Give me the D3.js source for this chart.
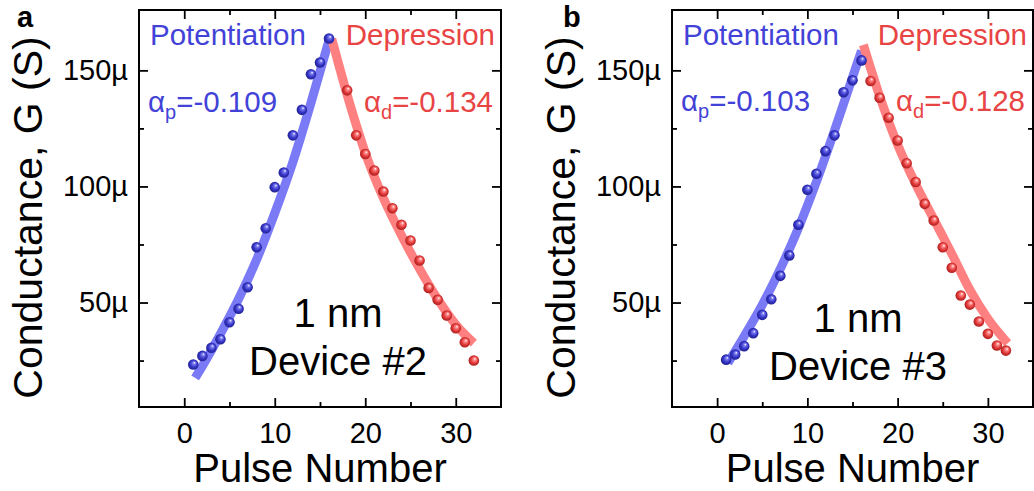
<!DOCTYPE html>
<html><head><meta charset="utf-8">
<script src="https://cdn.jsdelivr.net/npm/d3@7"></script>
<style>
body{margin:0;background:#fff}
svg{display:block}
text{font-family:"Liberation Sans",Arial,Helvetica,sans-serif}
</style>
</head><body>
<svg id="chart" width="1034" height="491"></svg>
<script>
// ---------- axis definitions ----------
const xDomain = [-5, 35];
const yDomain = [5, 176];           // µS
const xTicks = [0, 10, 20, 30];
const xMinorTicks = [5, 15, 25];
const yTicks = [50, 100, 150];
const yMinorTicks = [25, 75, 125];
const xTitle = "Pulse Number";
const yTitle = "Conductance, G (S)";

// ---------- panel a (Device #2) ----------
const potPulseA = [1,2,3,4,5,6,7,8,9,10,11,12,13,14,15,16];
const potGA = [23.3,27.0,30.5,34.2,41.5,47.3,56.6,73.8,82.0,99.7,106.0,122.0,133.0,148.3,153.4,163.7];
const depPulseA = [18,19,20,21,22,23,24,25,26,27,28,29,30,31,32];
const depGA = [141.4,122.0,114.0,106.9,97.8,90.6,83.5,76.7,68.1,56.3,51.2,44.4,38.9,32.9,25.0];
const potFitXA = [1.2,2,4,6,8,10,12,14,16];
const potFitGA = [17.5,22.6,36.5,51.5,68.5,88.5,110.5,136,163];
const depFitXA = [16.3,17,18,19,20,22,24,26,28,30,32];
const depFitGA = [163.5,153.5,139.5,126.5,114.5,95,79,64.5,51.5,40.5,32.5];

// ---------- panel b (Device #3) ----------
const potPulseB = [1,2,3,4,5,6,7,8,9,10,11,12,13,14,15,16];
const potGB = [25.4,27.6,31.2,36.8,44.7,51.4,61.5,70.3,83.5,98.6,105.5,115.2,122.0,140.6,145.7,154.3];
const depPulseB = [17,18,19,20,21,22,23,24,25,26,27,28,29,30,31,32];
const depGB = [145.4,138.2,129.6,119.8,110.0,101.9,92.5,85.3,73.8,65.0,53.0,49.1,41.8,36.5,31.5,29.3];
const potFitXB = [1.2,3,5,7,9,11,13,15,16];
const potFitGB = [24,35.5,49,64.5,82,102,124,147,158.5];
const depFitXB = [16.2,17,18,19,20,22,24,26,28,30,32.2];
const depFitGB = [161,151,139,128,118,101,86,71,55.5,43,32.5];

const panels = [
  {label:"a", alphaP:"-0.109", alphaD:"-0.134", device:"Device #2",
   potX:potPulseA, potY:potGA, depX:depPulseA, depY:depGA,
   pfX:potFitXA, pfY:potFitGA, dfX:depFitXA, dfY:depFitGA,
   x0:139, x1:501, labelX:17, noteX:338, noteY:327, alphaY:112},
  {label:"b", alphaP:"-0.103", alphaD:"-0.128", device:"Device #3",
   potX:potPulseB, potY:potGB, depX:depPulseB, depY:depGB,
   pfX:potFitXB, pfY:potFitGB, dfX:depFitXB, dfY:depFitGB,
   x0:672, x1:1033, labelX:563, noteX:858, noteY:332, alphaY:111}
];

const FONT = '"Liberation Sans",Arial,Helvetica,sans-serif';
const BLUE_TXT = "#4242d8", RED_TXT = "#e84444";
const BLUE_LINE = "#7a7af6", RED_LINE = "#ff8080";
const plotTop = 10, plotBottom = 407;

const svg = d3.select("#chart");
const defs = svg.append("defs");
function sphere(id, light, mid, dark){
  const g = defs.append("radialGradient").attr("id", id)
    .attr("cx","50%").attr("cy","50%").attr("r","55%")
    .attr("fx","62%").attr("fy","32%");
  g.append("stop").attr("offset","0%").attr("stop-color","#ffffff");
  g.append("stop").attr("offset","22%").attr("stop-color",light);
  g.append("stop").attr("offset","60%").attr("stop-color",mid);
  g.append("stop").attr("offset","100%").attr("stop-color",dark);
}
sphere("gBlue", "#7c7cf0", "#3535c6", "#1c1c88");
sphere("gRed", "#ff8c8c", "#e03838", "#a01a1a");

panels.forEach(p => {
  const x = d3.scaleLinear().domain(xDomain).range([p.x0, p.x1]);
  const y = d3.scaleLinear().domain(yDomain).range([plotBottom, plotTop]);
  const g = svg.append("g");

  // fit lines
  const line = d3.line().x(d => x(d[0])).y(d => y(d[1])).curve(d3.curveMonotoneX);
  g.append("path").datum(d3.zip(p.pfX, p.pfY)).attr("d", line)
    .attr("fill","none").attr("stroke",BLUE_LINE).attr("stroke-width",9);
  g.append("path").datum(d3.zip(p.dfX, p.dfY)).attr("d", line)
    .attr("fill","none").attr("stroke",RED_LINE).attr("stroke-width",9);

  // markers
  g.selectAll(".pb").data(d3.zip(p.potX, p.potY)).join("circle")
    .attr("cx", d => x(d[0])).attr("cy", d => y(d[1])).attr("r", 5.3)
    .attr("fill","url(#gBlue)");
  g.selectAll(".pr").data(d3.zip(p.depX, p.depY)).join("circle")
    .attr("cx", d => x(d[0])).attr("cy", d => y(d[1])).attr("r", 5.3)
    .attr("fill","url(#gRed)");

  const styleAxis = sel => {
    sel.select(".domain").remove();
    sel.selectAll("line").attr("stroke","#000").attr("stroke-width",1.8);
    sel.attr("font-family", FONT).attr("font-size", 29);
    sel.selectAll("text").attr("fill","#000");
  };
  g.append("g").attr("transform",`translate(0,${plotBottom})`)
    .call(d3.axisBottom(x).tickValues(xTicks).tickSize(-9).tickPadding(15).tickFormat(d3.format("d")))
    .call(styleAxis);
  g.append("g").attr("transform",`translate(0,${plotBottom})`)
    .call(d3.axisBottom(x).tickValues(xMinorTicks).tickSize(-5).tickFormat(""))
    .call(styleAxis);
  g.append("g").attr("transform",`translate(0,${plotTop})`)
    .call(d3.axisTop(x).tickValues(xTicks).tickSize(-9).tickFormat(""))
    .call(styleAxis);
  g.append("g").attr("transform",`translate(0,${plotTop})`)
    .call(d3.axisTop(x).tickValues(xMinorTicks).tickSize(-5).tickFormat(""))
    .call(styleAxis);
  g.append("g").attr("transform",`translate(${p.x0},0)`)
    .call(d3.axisLeft(y).tickValues(yTicks).tickSize(-9).tickPadding(11).tickFormat(d => d + "µ"))
    .call(styleAxis);
  g.append("g").attr("transform",`translate(${p.x0},0)`)
    .call(d3.axisLeft(y).tickValues(yMinorTicks).tickSize(-5).tickFormat(""))
    .call(styleAxis);
  g.append("g").attr("transform",`translate(${p.x1},0)`)
    .call(d3.axisRight(y).tickValues(yTicks).tickSize(-9).tickFormat(""))
    .call(styleAxis);
  g.append("g").attr("transform",`translate(${p.x1},0)`)
    .call(d3.axisRight(y).tickValues(yMinorTicks).tickSize(-5).tickFormat(""))
    .call(styleAxis);

  g.append("rect").attr("x", p.x0).attr("y", plotTop)
    .attr("width", p.x1 - p.x0).attr("height", plotBottom - plotTop)
    .attr("fill","none").attr("stroke","#000").attr("stroke-width",2);

  g.append("text").attr("x", (p.x0 + p.x1) / 2).attr("y", 482)
    .attr("text-anchor","middle").attr("font-size",40).text(xTitle);
  g.append("text").attr("transform",`translate(${p.x0 - 97},${(plotTop + plotBottom) / 2 + 9}) rotate(-90)`)
    .attr("text-anchor","middle").attr("font-size",41).text(yTitle);

  g.append("text").attr("x", p.labelX).attr("y", 27)
    .attr("font-size",29).attr("font-weight","bold").text(p.label);

  g.append("text").attr("x", p.x0 + 11).attr("y", 45).attr("font-size",29.5)
    .attr("fill",BLUE_TXT).text("Potentiation");
  g.append("text").attr("x", p.x1 - 6).attr("y", 45).attr("font-size",29.5)
    .attr("text-anchor","end").attr("fill",RED_TXT).text("Depression");

  const ap = g.append("text").attr("x", p.x0 + 9).attr("y", p.alphaY).attr("font-size",29.5).attr("fill",BLUE_TXT);
  ap.append("tspan").text("α");
  ap.append("tspan").attr("font-size",20).attr("dy",7).text("p");
  ap.append("tspan").attr("dy",-7).text("=" + p.alphaP);

  const ad = g.append("text").attr("x", p.x1 - 8).attr("y", p.alphaY).attr("font-size",29.5)
    .attr("text-anchor","end").attr("fill",RED_TXT);
  ad.append("tspan").text("α");
  ad.append("tspan").attr("font-size",20).attr("dy",7).text("d");
  ad.append("tspan").attr("dy",-7).text("=" + p.alphaD);

  g.append("text").attr("x", p.noteX).attr("y", p.noteY).attr("text-anchor","middle")
    .attr("font-size",40).text("1 nm");
  g.append("text").attr("x", p.noteX).attr("y", p.noteY + 48).attr("text-anchor","middle")
    .attr("font-size",40).text(p.device);
});
</script>
</body></html>
